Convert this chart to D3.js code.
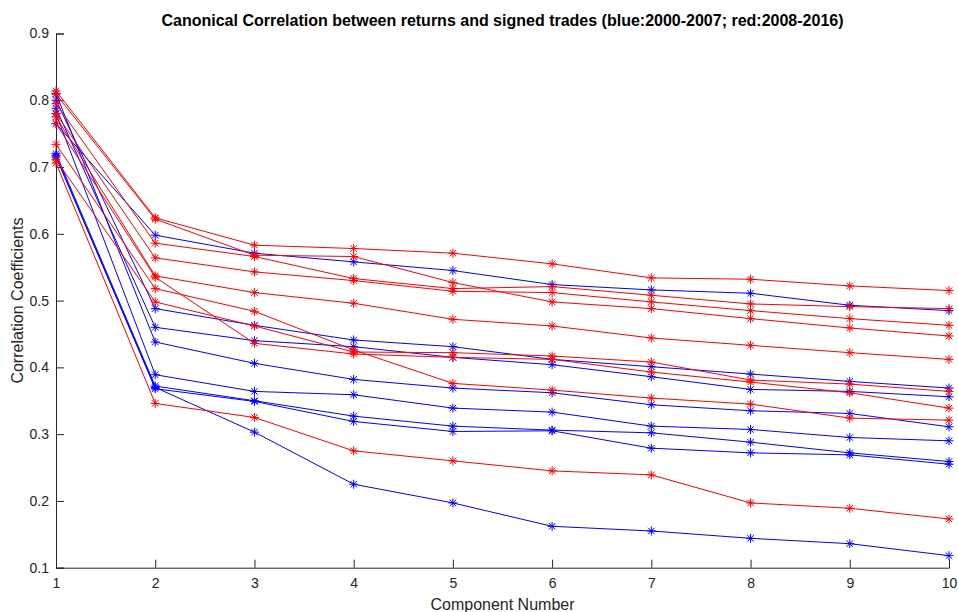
<!DOCTYPE html>
<html>
<head>
<meta charset="utf-8">
<script src="https://cdn.jsdelivr.net/npm/d3@7"></script>
<style>
  body { margin: 0; background: #fff; }
  svg { display: block; font-family: "Liberation Sans", Arial, sans-serif; }
</style>
</head>
<body>
<svg id="chart" width="958" height="612"></svg>
<script>
// component numbers on the x axis
var components = [1, 2, 3, 4, 5, 6, 7, 8, 9, 10];
var yTicks = [0.1, 0.2, 0.3, 0.4, 0.5, 0.6, 0.7, 0.8, 0.9];

// blue: 2000-2007 (one line per year)
var blue2000 = [0.765, 0.598, 0.571, 0.558, 0.545, 0.524, 0.516, 0.511, 0.493, 0.485];
var blue2001 = [0.800, 0.488, 0.463, 0.441, 0.431, 0.412, 0.401, 0.390, 0.379, 0.369];
var blue2002 = [0.788, 0.460, 0.440, 0.431, 0.415, 0.404, 0.386, 0.367, 0.364, 0.356];
var blue2003 = [0.810, 0.438, 0.406, 0.382, 0.369, 0.362, 0.344, 0.335, 0.331, 0.311];
var blue2004 = [0.780, 0.389, 0.364, 0.359, 0.339, 0.333, 0.312, 0.307, 0.295, 0.290];
var blue2005 = [0.720, 0.372, 0.350, 0.327, 0.312, 0.306, 0.302, 0.288, 0.272, 0.259];
var blue2006 = [0.717, 0.368, 0.349, 0.319, 0.304, 0.305, 0.279, 0.272, 0.269, 0.255];
var blue2007 = [0.715, 0.370, 0.303, 0.225, 0.197, 0.162, 0.155, 0.144, 0.136, 0.118];

// red: 2008-2016
var red2008 = [0.814, 0.624, 0.583, 0.578, 0.571, 0.555, 0.534, 0.532, 0.522, 0.515];
var red2009 = [0.809, 0.622, 0.568, 0.566, 0.527, 0.498, 0.488, 0.473, 0.459, 0.447];
var red2010 = [0.795, 0.586, 0.566, 0.533, 0.518, 0.521, 0.508, 0.495, 0.491, 0.488];
var red2011 = [0.780, 0.564, 0.543, 0.530, 0.514, 0.512, 0.498, 0.485, 0.473, 0.463];
var red2012 = [0.775, 0.537, 0.512, 0.496, 0.472, 0.462, 0.444, 0.433, 0.422, 0.412];
var red2013 = [0.734, 0.518, 0.484, 0.426, 0.376, 0.366, 0.354, 0.345, 0.324, 0.321];
var red2014 = [0.711, 0.498, 0.462, 0.423, 0.422, 0.417, 0.408, 0.381, 0.375, 0.364];
var red2015 = [0.765, 0.535, 0.436, 0.420, 0.415, 0.412, 0.393, 0.378, 0.362, 0.339];
var red2016 = [0.706, 0.346, 0.325, 0.275, 0.260, 0.245, 0.239, 0.197, 0.189, 0.173];

var blueSeries = [blue2000, blue2001, blue2002, blue2003, blue2004, blue2005, blue2006, blue2007];
var redSeries = [red2008, red2009, red2010, red2011, red2012, red2013, red2014, red2015, red2016];

var margin = {top: 33.5, right: 9, bottom: 44.3, left: 56},
    width = 958 - margin.left - margin.right,
    height = 612 - margin.top - margin.bottom;

var svg = d3.select("#chart")
  .append("g")
    .attr("transform", "translate(" + margin.left + "," + margin.top + ")");

var x = d3.scaleLinear().domain([1, 10]).range([0, width]);
var y = d3.scaleLinear().domain([0.1, 0.9]).range([height, 0]);

var axisColor = "#262626";

// axes, ticks pointing inwards like matlab
var xAxis = svg.append("g")
    .attr("transform", "translate(0," + height + ")")
    .call(d3.axisBottom(x).tickValues(components).tickSize(-8).tickPadding(10).tickFormat(d3.format("d")));
var yAxis = svg.append("g")
    .call(d3.axisLeft(y).tickValues(yTicks).tickSize(-8).tickPadding(7).tickFormat(d3.format(".1f")));

[xAxis, yAxis].forEach(function(a) {
  a.select(".domain").attr("stroke", axisColor).attr("stroke-width", 1);
  a.selectAll(".tick line").attr("stroke", axisColor);
  a.selectAll(".tick text").attr("fill", axisColor).style("font-size", "14px")
    .style("font-family", '"Liberation Sans", Arial, sans-serif');
});

var line = d3.line()
    .x(function(d, i) { return x(components[i]); })
    .y(function(d) { return y(d); });

// asterisk marker: plus + cross
function star(g, color) {
  var s = 4.5;
  g.append("line").attr("x1", -s).attr("x2", s).attr("y1", 0).attr("y2", 0);
  g.append("line").attr("x1", 0).attr("x2", 0).attr("y1", -s).attr("y2", s);
  g.append("line").attr("x1", -s * 0.72).attr("x2", s * 0.72).attr("y1", -s * 0.72).attr("y2", s * 0.72);
  g.append("line").attr("x1", -s * 0.72).attr("x2", s * 0.72).attr("y1", s * 0.72).attr("y2", -s * 0.72);
  g.selectAll("line").attr("stroke", color).attr("stroke-width", 1);
}

function drawSeries(list, color) {
  list.forEach(function(vals) {
    svg.append("path")
      .datum(vals)
      .attr("fill", "none")
      .attr("stroke", color)
      .attr("stroke-width", 1)
      .attr("d", line);
    svg.append("g").selectAll("g")
      .data(vals)
      .enter().append("g")
        .attr("transform", function(d, i) { return "translate(" + x(components[i]) + "," + y(d) + ")"; })
        .each(function() { star(d3.select(this), color); });
  });
}

drawSeries(blueSeries, "#0000ff");
drawSeries(redSeries, "#ff0000");

// title and labels
svg.append("text")
    .attr("x", width / 2)
    .attr("y", -8)
    .attr("text-anchor", "middle")
    .attr("fill", "#000")
    .style("font-size", "16px")
    .style("font-weight", "bold")
    .text("Canonical Correlation between returns and signed trades (blue:2000-2007; red:2008-2016)");

svg.append("text")
    .attr("x", width / 2)
    .attr("y", height + 42)
    .attr("text-anchor", "middle")
    .attr("fill", axisColor)
    .style("font-size", "16px")
    .text("Component Number");

svg.append("text")
    .attr("transform", "translate(" + (23 - margin.left) + "," + (height / 2) + ") rotate(-90)")
    .attr("text-anchor", "middle")
    .attr("fill", axisColor)
    .style("font-size", "16px")
    .text("Correlation Coefficients");
</script>
</body>
</html>
